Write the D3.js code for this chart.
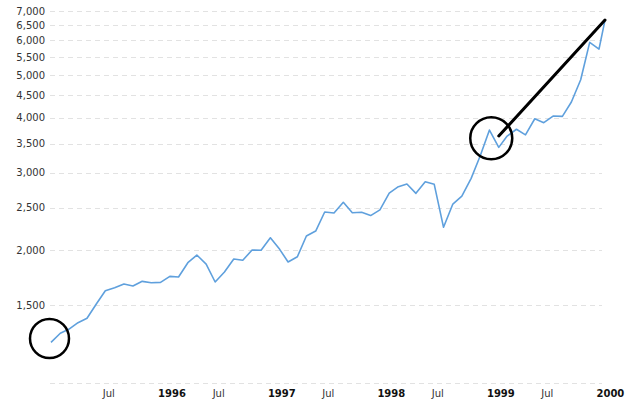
<!DOCTYPE html>
<html>
<head>
<meta charset="utf-8">
<script src="https://cdn.jsdelivr.net/npm/d3@7"></script>
<style>
  body { margin: 0; background: #fff; }
  text { font-family: "DejaVu Sans", Verdana, sans-serif; font-size: 10px; fill: #333; }
</style>
</head>
<body>
<svg width="640" height="404"></svg>
<script>
// monthly closes, Jan 1995 .. Jan 2000, then the latest close
let startMonth = '1995-01-01';
let latestDate = '2000-01-21';
let closes = [
    1237, 1297, 1324, 1371, 1403, 1512, 1620, 1646, 1678, 1661, 1702, 1690,
    1693, 1747, 1741, 1876, 1953, 1863, 1696, 1787, 1913, 1900, 2005, 2002,
    2138, 2012, 1883, 1936, 2157, 2214, 2446, 2433, 2573, 2437, 2442, 2401,
    2474, 2701, 2787, 2831, 2697, 2866, 2827, 2258, 2550, 2659, 2917, 3278,
    3756, 3430, 3639, 3771, 3663, 3984, 3902, 4041, 4034, 4348, 4886, 5941,
    5736
];
let latestClose = 6676;

let yTicks = [1000, 1500, 2000, 2500, 3000, 3500, 4000, 4500, 5000, 5500, 6000, 6500, 7000];
let xTickDates = ['1995-07-01', '1996-01-01', '1996-07-01', '1997-01-01', '1997-07-01',
    '1998-01-01', '1998-07-01', '1999-01-01', '1999-07-01', '2000-01-01'];
let xTickLabels = ['Jul', '1996', 'Jul', '1997', 'Jul', '1998', 'Jul', '1999', 'Jul', '2000'];

// hand-drawn marks: circles and a stroke toward the last close
let circleMarks = [
    {date: '1994-12-27', value: 1262, r: 19.5},
    {date: '1999-01-07', value: 3598, r: 21}
];
let arrowFrom = {date: '1999-02-01', value: 3640};

let margin = {top: 11, right: 35, bottom: 21, left: 51},
    width = 640 - margin.left - margin.right,
    height = 404 - margin.top - margin.bottom;

let parse = d3.timeParse('%Y-%m-%d');
let start = parse(startMonth);
let data = closes.map((v, i) => ({date: d3.timeMonth.offset(start, i), value: v}));
data.push({date: parse(latestDate), value: latestClose});

let x = d3.scaleTime()
    .domain([data[0].date, data[data.length - 1].date])
    .range([0, width - 0]);
let y = d3.scaleLog()
    .domain([1000, 7000])
    .range([height, 0]);

var svg = d3.select('svg');
let g = svg.append('g')
    .attr('transform', `translate(${margin.left}, ${margin.top})`);

// grid + y labels
g.selectAll('line.grid')
    .data(yTicks)
    .enter()
    .append('line')
    .attr('class', 'grid')
    .attr('x1', -1)
    .attr('x2', width - 3)
    .attr('y1', d => Math.round(y(d)) + 0.5)
    .attr('y2', d => Math.round(y(d)) + 0.5)
    .attr('stroke', '#e2e2e2')
    .attr('stroke-dasharray', '5,4');

g.selectAll('text.ylab')
    .data(yTicks.filter(d => d > 1000))
    .enter()
    .append('text')
    .attr('class', 'ylab')
    .attr('x', -6)
    .attr('y', d => y(d))
    .attr('dy', '0.35em')
    .attr('text-anchor', 'end')
    .text(d3.format(','));

// x labels
g.selectAll('text.xlab')
    .data(xTickDates)
    .enter()
    .append('text')
    .attr('class', 'xlab')
    .attr('x', d => x(parse(d)) - 2.5)
    .attr('y', height + 14)
    .attr('text-anchor', 'start')
    .style('font-weight', (d, i) => xTickLabels[i] == 'Jul' ? 'normal' : 'bold')
    .style('fill', (d, i) => xTickLabels[i] == 'Jul' ? '#333' : '#111')
    .text((d, i) => xTickLabels[i]);

// price line
let line = d3.line()
    .x(d => x(d.date))
    .y(d => y(d.value));

g.append('path')
    .datum(data)
    .attr('d', line)
    .attr('fill', 'none')
    .attr('stroke', '#5fa0dd')
    .attr('stroke-width', 1.6)
    .attr('stroke-linejoin', 'round');

// annotations
g.selectAll('circle.mark')
    .data(circleMarks)
    .enter()
    .append('circle')
    .attr('class', 'mark')
    .attr('cx', d => x(parse(d.date)))
    .attr('cy', d => y(d.value))
    .attr('r', d => d.r)
    .attr('fill', 'none')
    .attr('stroke', 'black')
    .attr('stroke-width', 2.5);

let last = data[data.length - 1];
g.append('line')
    .attr('x1', x(parse(arrowFrom.date)))
    .attr('y1', y(arrowFrom.value))
    .attr('x2', x(last.date))
    .attr('y2', y(last.value))
    .attr('stroke', 'black')
    .attr('stroke-width', 3)
    .attr('stroke-linecap', 'round');
</script>
</body>
</html>
